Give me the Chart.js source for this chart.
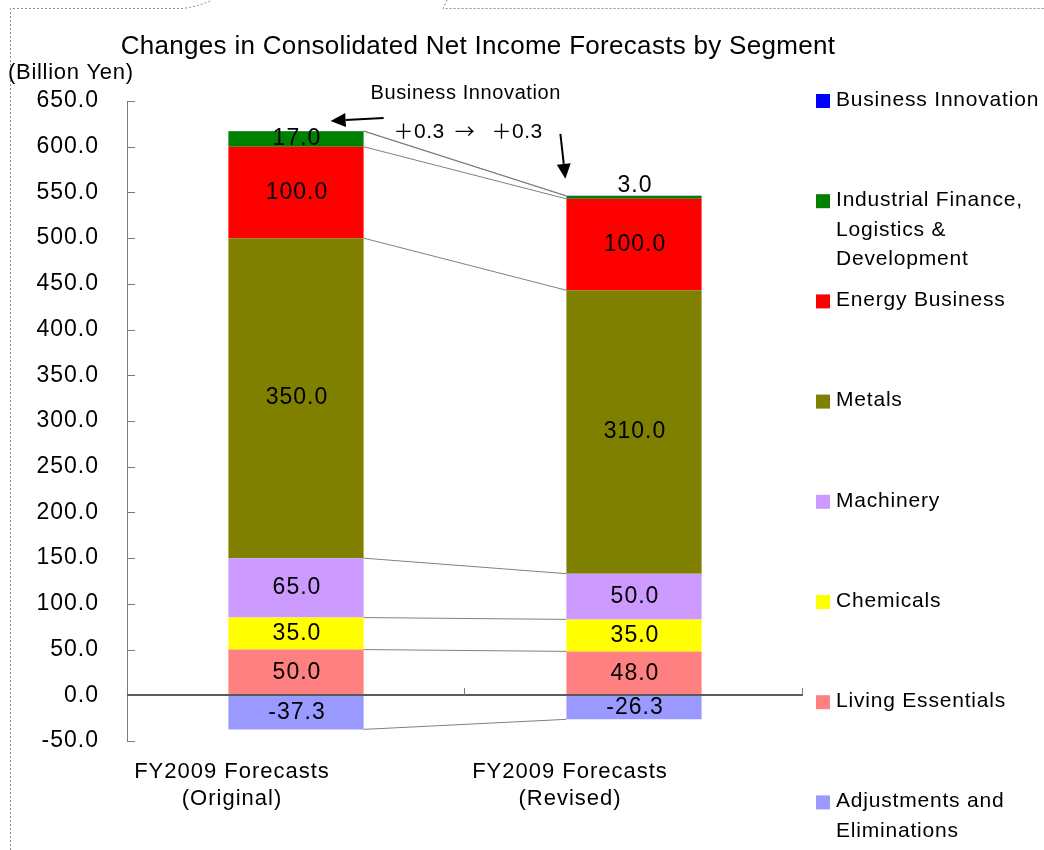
<!DOCTYPE html>
<html>
<head>
<meta charset="utf-8">
<title>Changes in Consolidated Net Income Forecasts by Segment</title>
<script src="https://cdn.jsdelivr.net/npm/chart.js@4/dist/chart.umd.min.js"></script>
<style>
  html, body { margin: 0; padding: 0; background: #fff; }
  canvas { display: block; }
</style>
</head>
<body>
<canvas id="segmentChart" width="1044" height="850"></canvas>
<script>
// ---- data ----
const categories = [["FY2009 Forecasts", "(Original)"], ["FY2009 Forecasts", "(Revised)"]];

const adjustments = [-37.3, -26.3];
const livingEssentials = [50.0, 48.0];
const chemicals = [35.0, 35.0];
const machinery = [65.0, 50.0];
const metals = [350.0, 310.0];
const energy = [100.0, 100.0];
const industrialFinance = [17.0, 3.0];
const businessInnovation = [0.3, 0.3];

const yMin = -50;
const yMax = 650;
const yStep = 50;

const chartTitle = "Changes in Consolidated Net Income Forecasts by Segment";
const unitLabel = "(Billion Yen)";

// bottom of the stack first; legend is drawn in reverse
const segments = [
  { lines: ["Adjustments and", "Eliminations"], data: adjustments, color: "#9999ff", label: true },
  { lines: ["Living Essentials"], data: livingEssentials, color: "#ff8080", label: true },
  { lines: ["Chemicals"], data: chemicals, color: "#ffff00", label: true },
  { lines: ["Machinery"], data: machinery, color: "#cc99ff", label: true },
  { lines: ["Metals"], data: metals, color: "#808000", label: true },
  { lines: ["Energy Business"], data: energy, color: "#ff0000", label: true },
  { lines: ["Industrial Finance,", "Logistics &", "Development"], data: industrialFinance, color: "#008000", label: true },
  { lines: ["Business Innovation"], data: businessInnovation, color: "#0000ff", label: false }
];

const FONT = '"Liberation Sans", Arial, "Noto Sans CJK JP", sans-serif';
const CJK_FONT = '"Noto Sans CJK JP", "Liberation Sans", sans-serif';
const font = (size) => `${size}px ${FONT}`;

function drawArrow(ctx, x1, y1, x2, y2) {
  const angle = Math.atan2(y2 - y1, x2 - x1);
  const head = 15;
  const half = 7;
  const bx = x2 - head * Math.cos(angle);
  const by = y2 - head * Math.sin(angle);
  ctx.beginPath();
  ctx.moveTo(x1, y1);
  ctx.lineTo(bx, by);
  ctx.stroke();
  ctx.beginPath();
  ctx.moveTo(x2, y2);
  ctx.lineTo(bx + half * Math.sin(angle), by - half * Math.cos(angle));
  ctx.lineTo(bx - half * Math.sin(angle), by + half * Math.cos(angle));
  ctx.closePath();
  ctx.fill();
}

// "＋0.3" with full-width plus from the CJK font and Latin digits
function drawDelta(ctx, value, x, y) {
  ctx.font = `20px ${CJK_FONT}`;
  ctx.fillText("\uff0b", x, y);
  const w = ctx.measureText("\uff0b").width;
  ctx.font = font(21);
  ctx.fillText(value.toFixed(1), x + w, y);
  return x + w + ctx.measureText(value.toFixed(1)).width;
}

const decorPlugin = {
  id: "decor",
  beforeDraw(chart) {
    const ctx = chart.ctx;
    ctx.letterSpacing = "1px";

    // dotted frame around the slide area
    ctx.save();
    ctx.strokeStyle = "#8c8c8c";
    ctx.lineWidth = 1;
    ctx.setLineDash([2, 2]);
    ctx.beginPath();
    ctx.moveTo(10.5, 850);
    ctx.lineTo(10.5, 8.5);
    ctx.lineTo(183, 8.5);
    ctx.quadraticCurveTo(200, 6, 212, 0);
    ctx.moveTo(447, 0);
    ctx.lineTo(443, 8.5);
    ctx.lineTo(1044, 8.5);
    ctx.stroke();
    ctx.restore();
  },
  afterDatasetsDraw(chart) {
    const ctx = chart.ctx;
    const area = chart.chartArea;
    const y = chart.scales.y;

    ctx.save();
    // connector lines between the two bars
    ctx.strokeStyle = "#808080";
    ctx.lineWidth = 1;
    chart.data.datasets.forEach((ds, i) => {
      const [a, b] = chart.getDatasetMeta(i).data;
      ctx.beginPath();
      ctx.moveTo(a.x + a.width / 2, a.y);
      ctx.lineTo(b.x - b.width / 2, b.y);
      ctx.stroke();
    });

    // value axis with inner tick marks
    ctx.strokeStyle = "#7a7a7a";
    ctx.beginPath();
    ctx.moveTo(area.left + 0.5, area.top);
    ctx.lineTo(area.left + 0.5, area.bottom);
    for (let v = yMin; v <= yMax; v += yStep) {
      const py = Math.round(y.getPixelForValue(v)) + 0.5;
      ctx.moveTo(area.left, py);
      ctx.lineTo(area.left + 8, py);
    }
    ctx.stroke();

    // category axis on the zero line
    const zero = Math.round(y.getPixelForValue(0));
    ctx.strokeStyle = "#5a5a5a";
    ctx.lineWidth = 2;
    ctx.beginPath();
    ctx.moveTo(area.left, zero);
    ctx.lineTo(area.right, zero);
    ctx.stroke();
    ctx.lineWidth = 1;
    ctx.strokeStyle = "#7a7a7a";
    ctx.beginPath();
    for (let i = 1; i <= categories.length; i++) {
      const px = Math.round(area.left + (area.right - area.left) * i / categories.length) - 0.5;
      ctx.moveTo(px, zero);
      ctx.lineTo(px, zero - 7);
    }
    ctx.stroke();

    // segment value labels
    ctx.fillStyle = "#000";
    ctx.font = font(23);
    ctx.textAlign = "center";
    ctx.textBaseline = "middle";
    ctx.letterSpacing = "1px";
    chart.data.datasets.forEach((ds, i) => {
      if (!segments[i].label) return;
      chart.getDatasetMeta(i).data.forEach((el, j) => {
        const text = ds.data[j].toFixed(1);
        const h = Math.abs(el.base - el.y);
        const ly = h < 8 ? Math.min(el.y, el.base) - 10 : (el.y + el.base) / 2;
        ctx.fillText(text, el.x + 1, ly);
      });
    });
    ctx.restore();
  },
  afterDraw(chart) {
    const ctx = chart.ctx;
    ctx.save();
    ctx.fillStyle = "#000";
    ctx.textBaseline = "middle";

    // title and unit
    ctx.letterSpacing = "0.3px";
    ctx.font = font(26);
    ctx.textAlign = "center";
    ctx.fillText(chartTitle, 478, 47);
    ctx.letterSpacing = "0.7px";
    ctx.font = font(22);
    ctx.textAlign = "left";
    ctx.fillText(unitLabel, 8, 73);

    // legend, top item = last stacked segment
    ctx.font = font(21);
    ctx.letterSpacing = "0.8px";
    segments.slice().reverse().forEach((seg, i) => {
      const cy = 100 + i * 100.2;
      ctx.fillStyle = seg.color;
      ctx.fillRect(816, cy - 6, 14, 14);
      ctx.fillStyle = "#000";
      seg.lines.forEach((line, k) => ctx.fillText(line, 836, cy + k * 29.7));
    });

    // Business Innovation callout
    const biIndex = segments.length - 1;
    const [first, second] = chart.getDatasetMeta(biIndex).data;
    const r1 = first.x + first.width / 2;
    const l2 = second.x - second.width / 2;
    ctx.strokeStyle = "#000";
    ctx.fillStyle = "#000";
    ctx.lineWidth = 2;
    drawArrow(ctx, r1 + 20, first.y - 13, r1 - 33, first.y - 10);
    drawArrow(ctx, l2 - 6, second.y - 62, l2 - 1, second.y - 17);

    ctx.font = font(20);
    ctx.letterSpacing = "0.6px";
    ctx.fillText("Business Innovation", r1 + 7, first.y - 37);
    ctx.letterSpacing = "0.5px";
    const ty = first.y + 1;
    const end = drawDelta(ctx, businessInnovation[0], r1 + 30, ty);
    ctx.font = `20px ${CJK_FONT}`;
    ctx.fillText("\u2192", end + 10, ty);
    drawDelta(ctx, businessInnovation[1], r1 + 128, ty);
    ctx.restore();
  }
};

Chart.defaults.font.family = FONT;
Chart.defaults.color = "#000";

new Chart(document.getElementById("segmentChart"), {
  type: "bar",
  data: {
    labels: categories,
    datasets: segments.map((seg) => ({
      label: seg.lines.join(" "),
      data: seg.data,
      backgroundColor: seg.color,
      borderWidth: 0,
      barPercentage: 0.4,
      categoryPercentage: 1
    }))
  },
  options: {
    responsive: false,
    animation: false,
    devicePixelRatio: 1,
    layout: { padding: { top: 101, right: 241, left: 0, bottom: 0 } },
    plugins: {
      legend: { display: false },
      title: { display: false },
      tooltip: { enabled: false }
    },
    scales: {
      x: {
        stacked: true,
        grid: { display: false, drawTicks: false },
        border: { display: false },
        ticks: { font: { size: 22 }, padding: 18, labelOffset: -64, maxRotation: 0, autoSkip: false },
        afterFit: (scale) => { scale.height = 109; }
      },
      y: {
        stacked: true,
        min: yMin,
        max: yMax,
        grid: { display: false, drawTicks: false },
        border: { display: false },
        ticks: {
          stepSize: yStep,
          font: { size: 23 },
          padding: 28,
          callback: (v) => Number(v).toFixed(1)
        },
        afterFit: (scale) => { scale.width = 127; }
      }
    }
  },
  plugins: [decorPlugin]
});
</script>
</body>
</html>
